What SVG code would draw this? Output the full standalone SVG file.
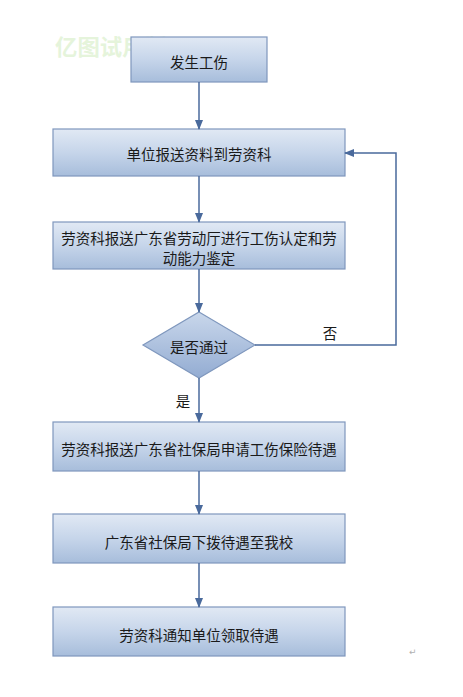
<svg xmlns="http://www.w3.org/2000/svg" width="463" height="697" viewBox="0 0 463 697">
<defs>
<linearGradient id="g" x1="0" y1="0" x2="0" y2="1">
<stop offset="0" stop-color="#e1e9f4"/>
<stop offset="0.5" stop-color="#c6d5ea"/>
<stop offset="1" stop-color="#a7bddb"/>
</linearGradient>
<linearGradient id="gd" x1="0" y1="0" x2="0" y2="1">
<stop offset="0" stop-color="#c9d7eb"/>
<stop offset="1" stop-color="#93acd2"/>
</linearGradient>
<marker id="ah" markerWidth="10" markerHeight="8" refX="9" refY="4" orient="auto" markerUnits="userSpaceOnUse">
<path d="M0,0 L10,4 L0,8 Z" fill="#4a6a9c"/>
</marker>
</defs>
<style>
.box{fill:url(#g);stroke:#7f97bd;stroke-width:1.2}
.dia{fill:url(#gd);stroke:#7f97bd;stroke-width:1.2}
.t{font-family:"Noto Sans CJK SC","Liberation Sans",sans-serif;font-size:14.5px;fill:#1a1a1a;text-anchor:middle;dominant-baseline:central}
.c{fill:none;stroke:#4a6a9c;stroke-width:1.5}
.wm{font-family:"Noto Sans CJK SC",sans-serif;font-size:22px;font-weight:bold;fill:#cdeab8;opacity:0.5}
</style>
<rect width="463" height="697" fill="#ffffff"/>
<text class="wm" x="55" y="55" textLength="112" lengthAdjust="spacingAndGlyphs">亿图试用版</text>
<g id="n1"><rect class="box" x="131" y="37" width="136" height="45"/><text class="t" x="199" y="61">发生工伤</text></g>
<g id="n2"><rect class="box" x="53" y="129" width="292" height="47"/><text class="t" x="199" y="153">单位报送资料到劳资科</text></g>
<g id="n3"><rect class="box" x="53" y="222" width="292" height="47"/><text class="t" x="199" y="237">劳资科报送广东省劳动厅进行工伤认定和劳</text><text class="t" x="199" y="257">动能力鉴定</text></g>
<g id="n4"><polygon class="dia" points="199,312 255,345 199,378 143,345"/><text class="t" x="199" y="346">是否通过</text></g>
<g id="n5"><rect class="box" x="53" y="422" width="292" height="49"/><text class="t" x="199" y="448">劳资科报送广东省社保局申请工伤保险待遇</text></g>
<g id="n6"><rect class="box" x="53" y="514" width="292" height="49"/><text class="t" x="199" y="541">广东省社保局下拨待遇至我校</text></g>
<g id="n7"><rect class="box" x="53" y="607" width="292" height="49"/><text class="t" x="199" y="634">劳资科通知单位领取待遇</text></g>
<g id="connectors">
<line class="c" x1="199" y1="82" x2="199" y2="129" marker-end="url(#ah)"/>
<line class="c" x1="199" y1="176" x2="199" y2="222" marker-end="url(#ah)"/>
<line class="c" x1="199" y1="269" x2="199" y2="312" marker-end="url(#ah)"/>
<line class="c" x1="199" y1="378" x2="199" y2="422" marker-end="url(#ah)"/>
<line class="c" x1="199" y1="471" x2="199" y2="514" marker-end="url(#ah)"/>
<line class="c" x1="199" y1="563" x2="199" y2="607" marker-end="url(#ah)"/>
<polyline class="c" points="255,345 396,345 396,153 345,153" marker-end="url(#ah)"/>
<text class="t" x="330" y="332">否</text>
<text class="t" x="183" y="400">是</text>
</g>
<text x="409" y="655" font-family="DejaVu Sans,sans-serif" font-size="9" fill="#b0b0b0">↵</text>
</svg>
